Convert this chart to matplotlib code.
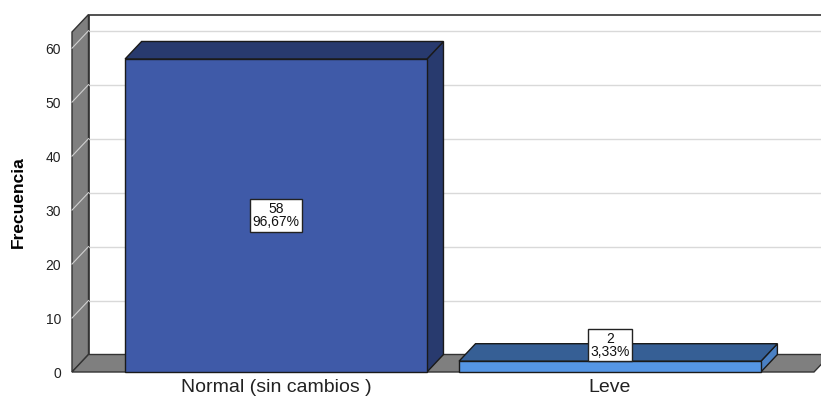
import matplotlib
matplotlib.use("Agg")
import matplotlib.pyplot as plt
from matplotlib.patches import Polygon, Rectangle

plt.rcParams['font.family'] = ['Liberation Sans', 'DejaVu Sans']

categorias = ["Normal (sin cambios )", "Leve"]
frecuencias = [58, 2]
porcentajes = ["96,67%", "3,33%"]
yticks = [0, 10, 20, 30, 40, 50, 60]

# colores de cada barra: cara frontal, tapa y lateral
frente = ["#3f5aa8", "#5596e5"]
tapa = ["#283a6e", "#365f95"]
lateral = ["#283a6e", "#4a80c3"]
gris = "#7f7f7f"
borde = "#1a1a1a"

W, H = 821, 399
fig = plt.figure(figsize=(W / 100, H / 100), dpi=100)
ax = fig.add_axes([72 / W, 27 / H, 742 / W, 340 / H])
ax.set_xlim(-0.611, 1.611)
ax.set_ylim(0, 63)
x0, x1 = ax.get_xlim()
y0, y1 = ax.get_ylim()

# profundidad del efecto 3D (en pixeles) pasada a unidades de datos
px_x = 742 / (x1 - x0)
px_y = 340 / (y1 - y0)
dx = 16.5 / px_x
dy = 17.5 / px_y

# pared del fondo
ax.add_patch(Rectangle((x0 + dx, y0 + dy), x1 - x0, y1 - y0, facecolor="white",
                       edgecolor="#333333", lw=1.2, clip_on=False, zorder=1))
for t in yticks[1:]:
    ax.plot([x0 + dx, x1 + dx], [t + dy, t + dy], color="#d9d9d9", lw=1,
            clip_on=False, zorder=2)

# pared lateral y suelo
ax.add_patch(Polygon([(x0, y0), (x0, y1), (x0 + dx, y1 + dy), (x0 + dx, y0 + dy)],
                     closed=True, facecolor=gris, edgecolor="#333333", lw=1,
                     clip_on=False, zorder=3))
for t in yticks[1:]:
    ax.plot([x0, x0 + dx], [t, t + dy], color="#d0d0d0", lw=0.8,
            clip_on=False, zorder=4)
ax.add_patch(Polygon([(x0, y0), (x0 + dx, y0 + dy), (x1 + dx, y0 + dy), (x1, y0)],
                     closed=True, facecolor=gris, edgecolor="#333333", lw=1,
                     clip_on=False, zorder=3))

# barras
ancho = 0.904
for i, v in enumerate(frecuencias):
    xl, xr = i - ancho / 2, i + ancho / 2
    ax.add_patch(Polygon([(xr, 0), (xr + dx, dy), (xr + dx, v + dy), (xr, v)],
                         closed=True, facecolor=lateral[i], edgecolor=borde,
                         lw=1, clip_on=False, zorder=5))
    ax.add_patch(Polygon([(xl, v), (xl + dx, v + dy), (xr + dx, v + dy), (xr, v)],
                         closed=True, facecolor=tapa[i], edgecolor=borde,
                         lw=1, clip_on=False, zorder=5))
    ax.add_patch(Rectangle((xl, 0), ancho, v, facecolor=frente[i],
                           edgecolor=borde, lw=1, clip_on=False, zorder=6))

    # etiqueta con el recuento y el porcentaje
    if v * px_y > 40:
        ye = v / 2
    else:
        ye = v + 16 / px_y
    ax.text(i, ye, f"{v}\n{porcentajes[i]}", ha="center", va="center",
            fontsize=10, linespacing=0.9, color="#111111", zorder=8,
            bbox=dict(boxstyle="square,pad=0.2", facecolor="white",
                      edgecolor="#222222", lw=1))

ax.patch.set_visible(False)
for s in ax.spines.values():
    s.set_visible(False)
ax.set_yticks(yticks)
ax.set_xticks(range(len(categorias)))
ax.set_xticklabels(categorias)
ax.tick_params(axis="y", length=0, pad=8, labelsize=10, labelcolor="#222222")
ax.tick_params(axis="x", length=0, pad=5, labelsize=14, labelcolor="#222222")

fig.text(18 / W, 1 - 202 / H, "Frecuencia", rotation=90, fontsize=12.5,
         fontweight="bold", ha="center", va="center")

fig.savefig("out.png", dpi=100)
